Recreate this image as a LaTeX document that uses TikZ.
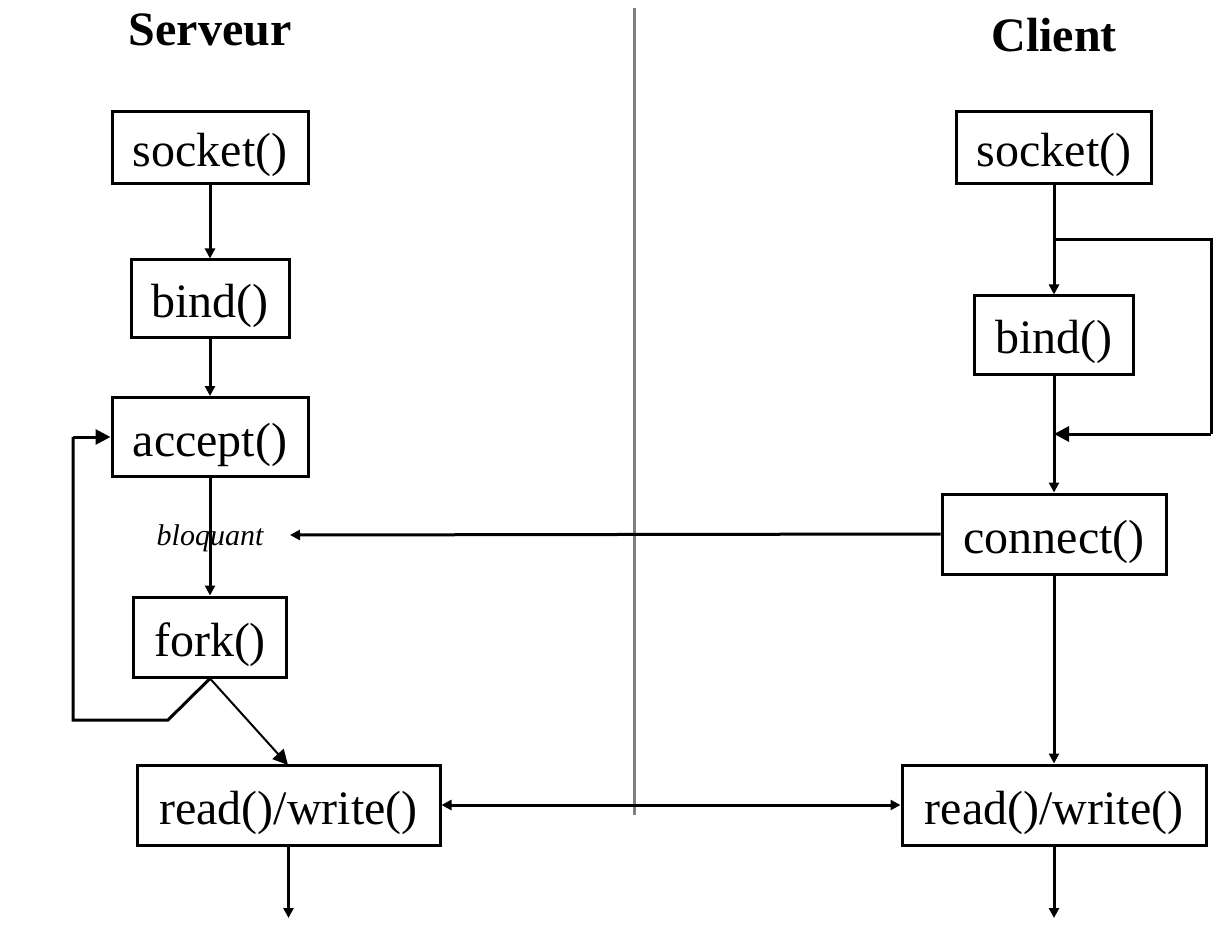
\documentclass[tikz,border=0pt]{standalone}
\usepackage{fontspec}
\setmainfont{Liberation Serif}
\usetikzlibrary{arrows.meta}
\begin{document}
\begin{tikzpicture}[x=0.5pt,y=-0.5pt,
  fn/.style={font=\fontsize{24}{28}\selectfont},
  box/.style={draw, line width=1.5pt, fn, inner sep=0pt, anchor=center, text height=19pt, text depth=0pt},
  title/.style={font=\fontsize{24}{28}\selectfont\bfseries},
  ln/.style={line width=1.5pt},
  arr/.style={ln, -{Triangle[length=5pt,width=5pt]}},
  bigarr/.style={ln, -{Triangle[length=7.5pt,width=7.5pt]}},
]
\useasboundingbox (0,0) rectangle (1214,946);
% titles
\node[title] (tS) at (210,30) {Serveur};
\node[title] (tC) at (1054,35) {Client};
% divider
\coordinate (d1) at (634,8);
\coordinate (d2) at (634,815);
\draw[line width=1.5pt, gray] (d1) -- (d2);
% server
\node[box, minimum width=98pt, minimum height=36pt] (ssock) at (210,148) {socket()};
\node[box, minimum width=79pt, minimum height=39pt] (sbind) at (210,299) {bind()};
\node[box, minimum width=98pt, minimum height=39.5pt] (sacc) at (210,437) {accept()};
\node[box, minimum width=76.5pt, minimum height=40pt] (sfork) at (210,637) {fork()};
\node[box, minimum width=151.5pt, minimum height=40pt] (srw) at (288.5,805) {read()/write()};
\node[font=\fontsize{15}{18}\selectfont\itshape, inner sep=0pt] (bloq) at (210,538) {bloquant};
% client
\node[box, minimum width=97.5pt, minimum height=36pt] (csock) at (1054,148) {socket()};
\node[box, minimum width=79.5pt, minimum height=39pt] (cbind) at (1054,335) {bind()};
\node[box, minimum width=112pt, minimum height=40pt] (ccon) at (1054,534) {connect()};
\node[box, minimum width=152pt, minimum height=40pt] (crw) at (1054,805) {read()/write()};
% server connectors
\draw[arr] (ssock.south) -- (sbind.north);
\draw[arr] (sbind.south) -- (sacc.north);
\draw[arr] (sacc.south) -- (sfork.north);
\coordinate (fl1) at (168,720);
\coordinate (fl2) at (73,720);
\coordinate (fl3) at (73,437);
\draw[ln] (sfork.south) -- (fl1) -- (fl2) -- (fl3);
\draw[bigarr] (fl3) -- (sacc.west);
\draw[line width=1pt, -{Triangle[length=7.5pt,width=7.5pt]}] (sfork.south) -- (288,765);
\coordinate (send) at (288.5,918);
\draw[arr] (srw.south) -- (send);
% client connectors
\coordinate (cb1) at (1054,240);
\coordinate (cb2) at (1211,240);
\coordinate (cb3) at (1211,434);
\coordinate (cb4) at (1054,434);
\draw[ln] (csock.south) -- (cb1);
\draw[arr] (cb1) -- (cbind.north);
\draw[ln] (cb1) -- (cb2) -- (cb3);
\draw[bigarr] (cb3) -- (cb4);
\draw[arr] (cbind.south) -- (ccon.north);
\draw[arr] (ccon.south) -- (crw.north);
\coordinate (cend) at (1054,918);
\draw[arr] (crw.south) -- (cend);
% cross connectors
\coordinate (bq) at (290,535);
\draw[arr] (ccon.west) -- (bq);
\draw[ln, {Triangle[length=5pt,width=5pt]}-{Triangle[length=5pt,width=5pt]}] (srw.east) -- (crw.west);
\end{tikzpicture}
\end{document}
